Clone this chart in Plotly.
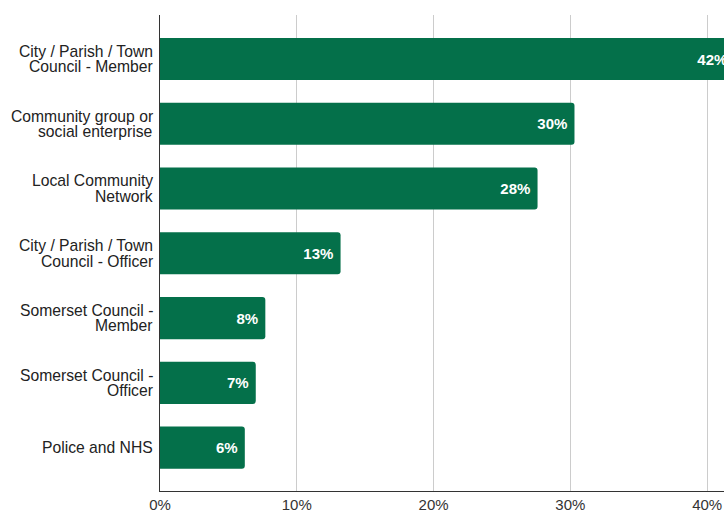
import plotly.graph_objects as go

# Respondent groups (top to bottom) and share of respondents in each
categories = [
    "City / Parish / Town Council - Member",
    "Community group or social enterprise",
    "Local Community Network",
    "City / Parish / Town Council - Officer",
    "Somerset Council - Member",
    "Somerset Council - Officer",
    "Police and NHS",
]
label_lines = [
    ["City / Parish / Town", "Council - Member"],
    ["Community group or", "social enterprise"],
    ["Local Community", "Network"],
    ["City / Parish / Town", "Council - Officer"],
    ["Somerset Council -", "Member"],
    ["Somerset Council -", "Officer"],
    ["Police and NHS"],
]
shares = [0.420, 0.303, 0.276, 0.132, 0.077, 0.070, 0.062]
tick_values = [0, 0.1, 0.2, 0.3, 0.4]
tick_labels = ["0%", "10%", "20%", "30%", "40%"]

GREEN = "#04704a"
FONT = "Liberation Sans, Arial, sans-serif"

fig = go.Figure(
    go.Bar(
        x=shares,
        y=categories,
        orientation="h",
        marker=dict(color=GREEN, line=dict(width=0), cornerradius=3),
        texttemplate="%{x:.0%}&nbsp;",
        textposition="inside",
        insidetextanchor="end",
        textangle=0,
        textfont=dict(family=FONT, size=15, color="white", weight="bold"),
        hoverinfo="skip",
    )
)

# Category labels drawn line by line for tight line spacing
line_gap = 15.5
for cat, lines in zip(categories, label_lines):
    n = len(lines)
    for i, txt in enumerate(lines):
        offset = (i - (n - 1) / 2) * line_gap
        fig.add_annotation(
            x=0, xref="paper", y=cat, yref="y",
            text=txt, showarrow=False,
            xanchor="right", yanchor="middle",
            xshift=-5, yshift=-offset,
            font=dict(family=FONT, size=15.7, color="#222222"),
        )

fig.update_layout(
    width=724,
    height=512,
    margin=dict(l=160, r=0, t=15, b=21),
    paper_bgcolor="white",
    plot_bgcolor="white",
    bargap=0.35,
    showlegend=False,
    xaxis=dict(
        range=[0, 0.4123],
        tickvals=tick_values,
        ticktext=tick_labels,
        tickfont=dict(family=FONT, size=15, color="#333333"),
        showgrid=True,
        gridcolor="#cccccc",
        gridwidth=1,
        zeroline=False,
        showline=True,
        linecolor="#333333",
        linewidth=1,
        ticks="",
        fixedrange=True,
    ),
    yaxis=dict(
        categoryorder="array",
        categoryarray=categories,
        range=[6.67, -0.68],
        showticklabels=False,
        showgrid=False,
        zeroline=False,
        showline=True,
        linecolor="#333333",
        linewidth=1,
        ticks="",
        fixedrange=True,
    ),
)

fig.write_html("out.html", config={"displayModeBar": False})
